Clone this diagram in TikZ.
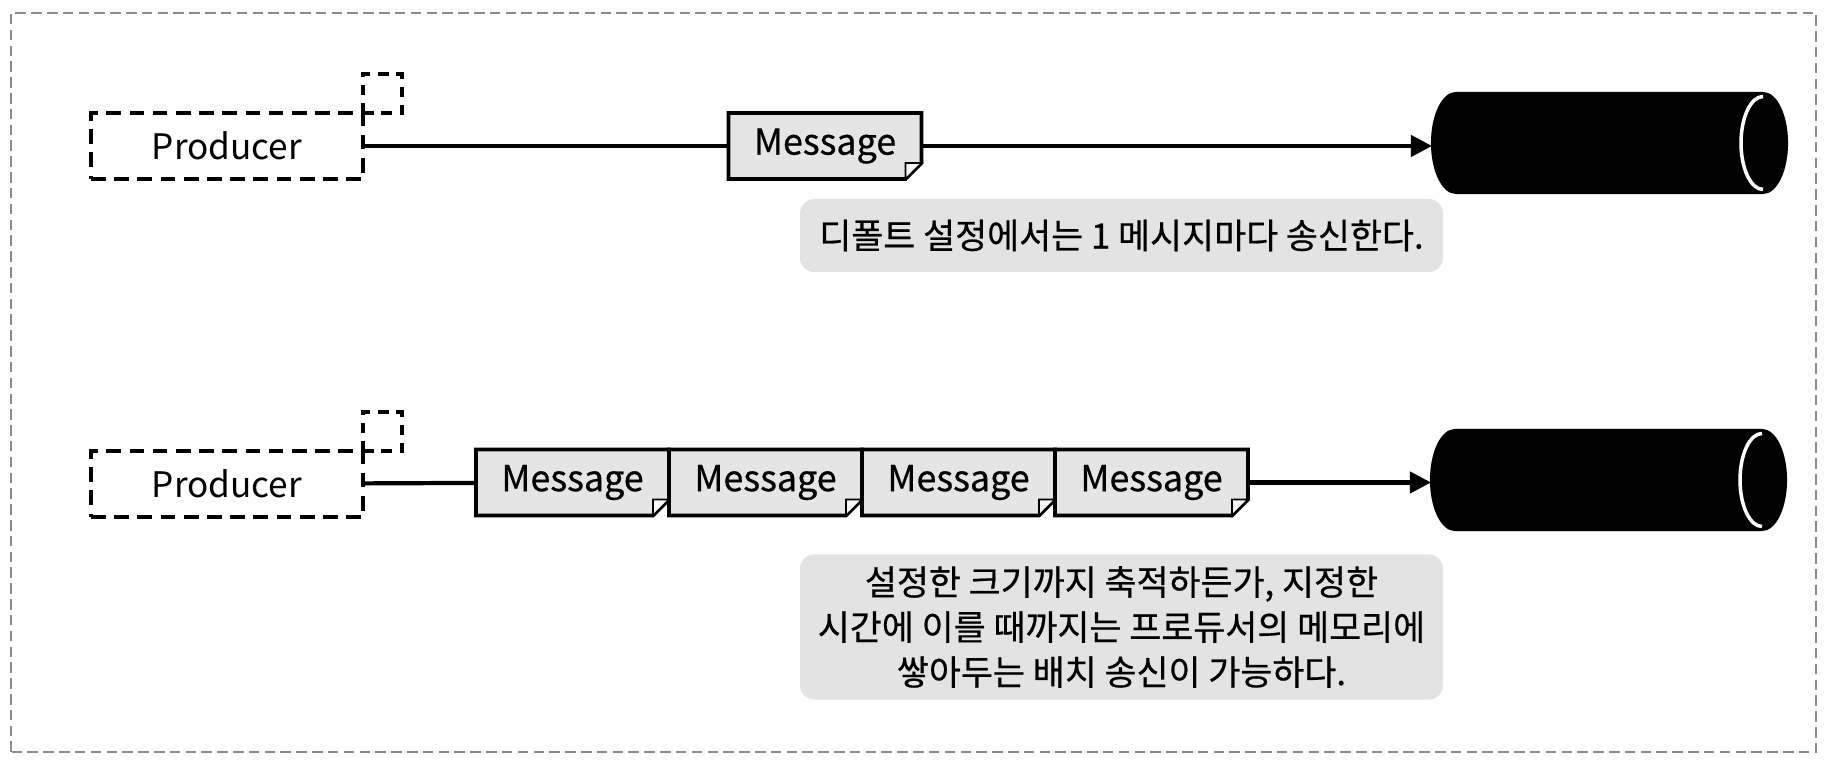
\documentclass[tikz,border=0pt]{standalone}
\usepackage{fontspec}
\setmainfont{Noto Sans CJK KR}
\newfontfamily\krfont{Noto Sans CJK KR}[FakeBold=0.6]
\usetikzlibrary{arrows.meta,positioning}
\tikzset{
	%Define standard arrow tip
	>={Triangle[length=6pt,width=6pt]},
	%Define style for producer boxes
	prod/.style={
		rectangle,
		draw=black, line width=0.9pt,
		dash pattern=on 4.2pt off 2.4pt,
		minimum width=2.72cm,
		minimum height=0.66cm,
		outer sep=0pt,
		font=\fontsize{10}{12}\selectfont},
	% small buffer square on the producer
	buf/.style={
		rectangle,
		draw=black, line width=0.9pt,
		dash pattern=on 3pt off 2.2pt,
		minimum size=0.39cm,
		inner sep=0pt, outer sep=0pt},
	% Define style for messages (outline drawn on bg layer)
	msg/.style={
		rectangle,
		minimum width=1.93cm,
		minimum height=0.66cm,
		inner sep=0pt, outer sep=0pt,
		font=\krfont\fontsize{10.2}{12}\selectfont},
	msgline/.style={
		draw=black, line width=1.1pt, fill=black!10},
	% folded corner of a message
	fold/.style={
		draw=black, line width=0.5pt, fill=black!3},
	% topic drum (body drawn afterwards)
	topic/.style={
		rectangle,
		minimum width=3.55cm,
		minimum height=1.0cm,
		inner sep=0pt, outer sep=0pt},
	drum/.style={
		draw=black, fill=black, line width=0.6pt},
	% caption boxes
	note/.style={
		fill=black!11,
		rounded corners=4pt,
		minimum width=6.43cm,
		align=center,
		font=\krfont\fontsize{9.9}{12.8}\selectfont},
	% Define arrow style
	pil/.style={
		line width=1.2pt},
	frame/.style={
		draw=black!45, line width=0.4pt,
		dash pattern=on 3pt off 1.5pt}
}
\begin{document}
\begin{tikzpicture}
	
	\pgfdeclarelayer{bg}    % layer for the message boxes
	\pgfsetlayers{bg,main}
	
	\useasboundingbox (0,0) rectangle (18.24,7.68);
	\draw[frame] (0.11,0.16) rectangle (18.16,7.55);
	
	% single message
	\node[prod] (prod1) at (2.27,6.22) {Producer};
	\node[buf, above right=0pt and 0pt of prod1.north east] (buf1) {};
	\node[msg] (msg1) at (8.25,6.22) {Message};
	\node[topic] (topic1) at (16.095,6.25) {};
	\node[note, minimum height=0.73cm] (note1) at (11.215,5.325) {디폴트 설정에서는 1 메시지마다 송신한다.};
	
	\draw[pil] (prod1) -- (msg1);
	\draw[pil,->] (msg1.east) -- (msg1.east -| topic1.west);
	
	% batch of messages
	\node[prod] (prod2) at (2.27,2.84) {Producer};
	\node[buf, above right=0pt and 0pt of prod2.north east] (buf2) {};
	\node[msg] (msg2a) at (5.725,2.855) {Message};
	\node[msg, right=0pt of msg2a] (msg2b) {Message};
	\node[msg, right=0pt of msg2b] (msg2c) {Message};
	\node[msg, right=0pt of msg2c] (msg2d) {Message};
	\node[topic] (topic2) at (16.085,2.88) {};
	\node[note, minimum height=1.42cm] (note2) at (11.215,1.41) {설정한 크기까지 축적하든가, 지정한\\시간에 이를 때까지는 프로듀서의 메모리에\\쌓아두는 배치 송신이 가능하다.};
	
	\draw[pil] (prod2) -- (msg2a);
	\draw[pil,->] (msg2d.east) -- (msg2d.east -| topic2.west);
	
	% message boxes with a cut corner
	\begin{pgfonlayer}{bg}
		\foreach \m in {msg1,msg2a,msg2b,msg2c,msg2d}
		\draw[msgline] (\m.north west) -- (\m.north east) -- ([yshift=0.16cm]\m.south east) -- ([xshift=-0.16cm]\m.south east) -- (\m.south west) -- cycle;
	\end{pgfonlayer}
	\foreach \m in {msg1,msg2a,msg2b,msg2c,msg2d}
	\draw[fold] ([xshift=-0.16cm]\m.south east) -- ([shift={(-0.16cm,0.16cm)}]\m.south east) -- ([yshift=0.16cm]\m.south east) -- cycle;
	
	% drums with a white rim at the open end
	\foreach \t in {topic1,topic2}{
		\draw[drum] ([xshift=0.24cm]\t.north west) -- ([xshift=-0.24cm]\t.north east) arc[start angle=90, end angle=-90, x radius=0.24cm, y radius=0.5cm] -- ([xshift=0.24cm]\t.south west) arc[start angle=270, end angle=90, x radius=0.24cm, y radius=0.5cm] -- cycle;
		\draw[white, line width=1pt] ([xshift=-0.24cm, yshift=-1pt]\t.north east) arc[start angle=90, end angle=270, x radius=0.22cm, y radius=0.5cm-1pt];
	}
	
\end{tikzpicture}
\end{document}
